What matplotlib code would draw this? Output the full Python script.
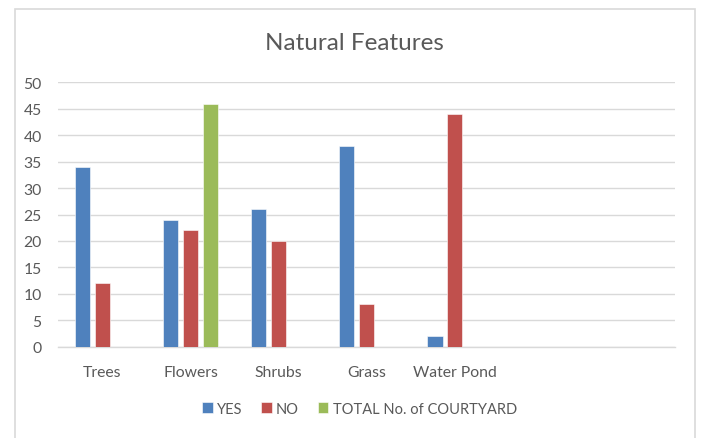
import matplotlib
matplotlib.use("Agg")
import matplotlib.pyplot as plt
import numpy as np
from matplotlib.patches import Rectangle

plt.rcParams['font.family'] = ['Lato', 'DejaVu Sans']

categories = ["Trees", "Flowers", "Shrubs", "Grass", "Water Pond", "", ""]
yes_vals = [34, 24, 26, 38, 2, None, None]
no_vals = [12, 22, 20, 8, 44, None, None]
total_vals = [None, 46, None, None, None, None, None]
series_names = ["YES", "NO", "TOTAL No. of COURTYARD"]
colors = ["#4F81BD", "#C0504D", "#9BBB59"]
yticks = [0, 5, 10, 15, 20, 25, 30, 35, 40, 45, 50]

fig = plt.figure(figsize=(7.01, 4.39), dpi=100)
ax = fig.add_axes([0.0832, 0.208, 0.963 - 0.0832, 0.810 - 0.208])

x = np.arange(len(categories))
step = 0.2265
width = 0.174
for i, (vals, name, c) in enumerate(zip([yes_vals, no_vals, total_vals], series_names, colors)):
    xs = [xi + (i - 1) * step for xi, v in zip(x, vals) if v is not None]
    vs = [v for v in vals if v is not None]
    ax.bar(xs, vs, width=width, color=c, label=name, edgecolor='white', linewidth=0.4, zorder=3)

ax.set_xlim(-0.5, len(categories) - 0.5)
ax.set_ylim(0, 50)
ax.set_yticks(yticks)
ax.yaxis.grid(True, color='#d9d9d9', linewidth=1.0, zorder=0)
ax.set_axisbelow(True)
for s in ['top', 'right', 'left']:
    ax.spines[s].set_visible(False)
ax.spines['bottom'].set_color('#d9d9d9')
ax.spines['bottom'].set_linewidth(1.0)
ax.set_xticks(x)
ax.set_xticklabels(categories)
ax.tick_params(axis='both', length=0, colors='#595959', labelsize=11.3)
ax.tick_params(axis='x', pad=13)
ax.tick_params(axis='y', pad=12)

fig.text(0.505, 0.902, "Natural Features", ha='center', va='center', fontsize=17.5, color='#595959')

handles, labels = ax.get_legend_handles_labels()
leg = fig.legend(handles, labels, loc='center', bbox_to_anchor=(0.513, 0.067), ncol=3, frameon=False,
                 handlelength=0.7, handleheight=0.7, handletextpad=0.3, columnspacing=1.3,
                 fontsize=10.5, labelcolor='#595959')

fig.patches.append(Rectangle((14.5 / 701, -0.05), (695 - 14.5) / 701, 1 - 9.5 / 439 + 0.05,
                             transform=fig.transFigure, fill=False, edgecolor='#d9d9d9', linewidth=1.2))

fig.savefig("out.png", dpi=100)
